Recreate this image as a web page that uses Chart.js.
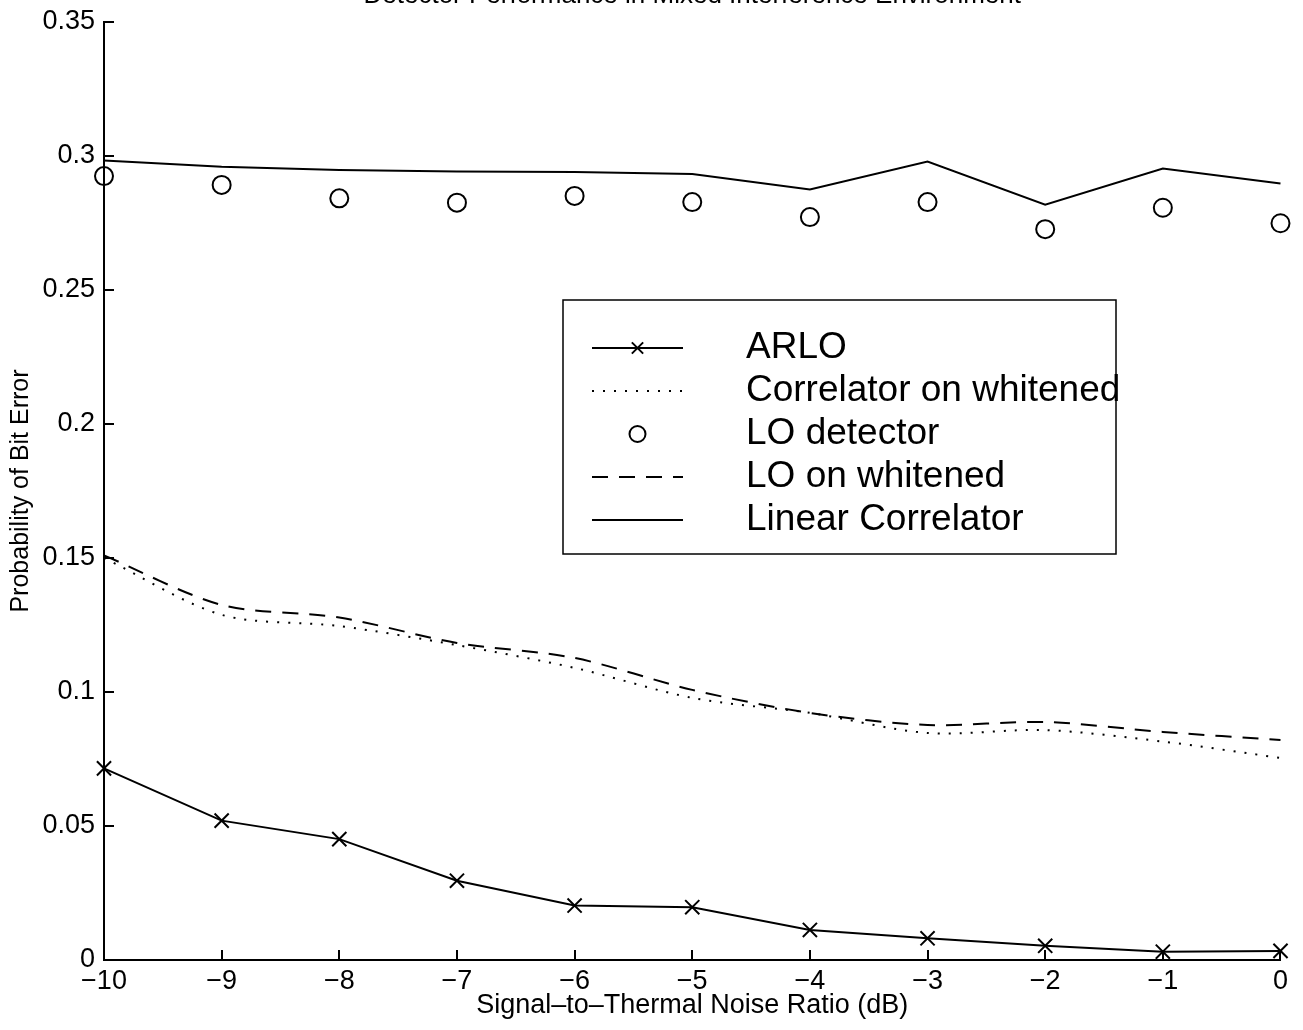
<!DOCTYPE html>
<html>
<head>
<meta charset="utf-8">
<script src="https://cdn.jsdelivr.net/npm/chart.js@4.4.1/dist/chart.umd.min.js"></script>
<style>
    html, body { margin: 0; padding: 0; background: #fff; }
    #frame { position: relative; width: 1303px; height: 1030px; overflow: hidden; }
    #holder { position: absolute; left: 0; top: -21px; width: 1303px; height: 1051px; }
</style>
</head>
<body>
<div id="frame"><div id="holder"><canvas id="berChart"></canvas></div></div>
<script>
// Signal-to-thermal noise ratio (dB)
const snr = [-10, -9, -8, -7, -6, -5, -4, -3, -2, -1, 0];

// Probability of bit error, one list per detector
const arlo = [0.0715, 0.0520, 0.0451, 0.0296, 0.0203, 0.0197, 0.0112, 0.0081, 0.0053, 0.0031, 0.0034];
const corrWhitened = [0.150, 0.1288, 0.1246, 0.1175, 0.1090, 0.0978, 0.0922, 0.0847, 0.0858, 0.0815, 0.0754];
const loDetector = [0.2925, 0.2892, 0.2842, 0.2826, 0.2851, 0.2828, 0.2772, 0.2828, 0.2727, 0.2807, 0.2749];
const loWhitened = [0.151, 0.1325, 0.1278, 0.1183, 0.1127, 0.1008, 0.0922, 0.0877, 0.0888, 0.0851, 0.0821];
const linearCorr = [0.2983, 0.2960, 0.2948, 0.2942, 0.2940, 0.2933, 0.2875, 0.2979, 0.2818, 0.2953, 0.2897];

// Tick labels
const xTickLabels = ["−10", "−9", "−8", "−7", "−6", "−5", "−4", "−3", "−2", "−1", "0"];
const yTicks = [0, 0.05, 0.1, 0.15, 0.2, 0.25, 0.3, 0.35];
const yTickLabels = ["0", "0.05", "0.1", "0.15", "0.2", "0.25", "0.3", "0.35"];

const chartTitle = "Detector Performance in Mixed Interference Environment";
const FONT = "'Liberation Sans', Arial, Helvetica, sans-serif";

function toPoints(values) {
    return snr.map((x, i) => ({ x: x, y: values[i] }));
}

function drawMarker(ctx, style, x, y, r) {
    ctx.beginPath();
    if (style === "circle") {
        ctx.arc(x, y, r, 0, Math.PI * 2);
    } else if (style === "crossRot") {
        const d = r * Math.SQRT1_2;
        ctx.moveTo(x - d, y - d);
        ctx.lineTo(x + d, y + d);
        ctx.moveTo(x - d, y + d);
        ctx.lineTo(x + d, y - d);
    }
    ctx.stroke();
}

// Title centred over the plot area (top is cut off, as in the scan)
const plotTitle = {
    id: "plotTitle",
    afterDraw(chart, args, opts) {
        const ctx = chart.ctx;
        const area = chart.chartArea;
        ctx.save();
        ctx.fillStyle = "#000";
        ctx.font = opts.fontSize + "px " + FONT;
        ctx.textAlign = "center";
        ctx.textBaseline = "alphabetic";
        ctx.fillText(opts.text, (area.left + area.right) / 2, opts.baseline);
        ctx.restore();
    }
};

// Boxed legend drawn inside the plot, like the original figure
const boxLegend = {
    id: "boxLegend",
    afterDraw(chart, args, opts) {
        const ctx = chart.ctx;
        ctx.save();
        ctx.fillStyle = "#fff";
        ctx.fillRect(opts.left, opts.top, opts.width, opts.height);
        ctx.strokeStyle = "#000";
        ctx.lineWidth = 1.5;
        ctx.strokeRect(opts.left, opts.top, opts.width, opts.height);

        chart.data.datasets.forEach((ds, i) => {
            const y = opts.firstRow + i * opts.rowGap;
            ctx.strokeStyle = ds.borderColor;
            ctx.lineWidth = ds.borderWidth;
            if (ds.showLine !== false) {
                ctx.setLineDash(ds.borderDash || []);
                ctx.beginPath();
                ctx.moveTo(opts.sampleStart, y);
                ctx.lineTo(opts.sampleEnd, y);
                ctx.stroke();
                ctx.setLineDash([]);
            }
            if (ds.pointRadius > 0) {
                drawMarker(ctx, ds.pointStyle, (opts.sampleStart + opts.sampleEnd) / 2, y, opts.markerRadius);
            }
            ctx.fillStyle = "#000";
            ctx.font = opts.fontSize + "px " + FONT;
            ctx.textAlign = "left";
            ctx.textBaseline = "middle";
            ctx.fillText(ds.label, opts.textX, y);
        });
        ctx.restore();
    }
};

const ctx = document.getElementById("berChart");

new Chart(ctx, {
    type: "line",
    data: {
        datasets: [
            {
                label: "ARLO",
                data: toPoints(arlo),
                borderColor: "#000",
                borderWidth: 2,
                pointStyle: "crossRot",
                pointRadius: 10,
                pointBorderWidth: 2,
                pointBorderColor: "#000",
                tension: 0,
            },
            {
                label: "Correlator on whitened",
                data: toPoints(corrWhitened),
                borderColor: "#000",
                borderWidth: 2,
                borderDash: [2, 9],
                pointRadius: 0,
                tension: 0.3,
            },
            {
                label: "LO detector",
                data: toPoints(loDetector),
                borderColor: "#000",
                borderWidth: 2,
                showLine: false,
                pointStyle: "circle",
                pointRadius: 9,
                pointBorderWidth: 2,
                pointBorderColor: "#000",
                pointBackgroundColor: "rgba(0,0,0,0)",
            },
            {
                label: "LO on whitened",
                data: toPoints(loWhitened),
                borderColor: "#000",
                borderWidth: 2,
                borderDash: [16, 11],
                pointRadius: 0,
                tension: 0.3,
            },
            {
                label: "Linear Correlator",
                data: toPoints(linearCorr),
                borderColor: "#000",
                borderWidth: 2,
                pointRadius: 0,
                tension: 0,
            },
        ],
    },
    options: {
        responsive: true,
        maintainAspectRatio: false,
        animation: false,
        clip: false,
        layout: {
            padding: { left: 0, right: 12, top: 43, bottom: 0 },
        },
        plugins: {
            legend: { display: false },
            tooltip: { enabled: false },
            title: { display: false },
            plotTitle: {
                text: chartTitle,
                fontSize: 26,
                baseline: 24,
            },
            boxLegend: {
                left: 563,
                top: 321,
                width: 553,
                height: 254,
                firstRow: 369,
                rowGap: 43,
                sampleStart: 592,
                sampleEnd: 683,
                markerRadius: 8,
                textX: 746,
                fontSize: 37,
            },
        },
        scales: {
            x: {
                type: "linear",
                min: -10,
                max: 0,
                afterFit: (scale) => { scale.height = 70; },
                ticks: {
                    stepSize: 1,
                    color: "#000",
                    padding: 15,
                    maxRotation: 0,
                    font: { family: FONT, size: 27 },
                    callback: (value) => xTickLabels[snr.indexOf(value)],
                },
                grid: {
                    drawOnChartArea: false,
                    drawTicks: true,
                    tickLength: -10,
                    color: "#000",
                    lineWidth: 2,
                },
                border: { display: true, color: "#000", width: 2 },
                title: {
                    display: true,
                    text: "Signal–to–Thermal Noise Ratio (dB)",
                    color: "#000",
                    font: { family: FONT, size: 27 },
                    padding: { top: 0, bottom: 8 },
                },
            },
            y: {
                min: 0,
                max: 0.35,
                afterFit: (scale) => { scale.width = 104; },
                ticks: {
                    stepSize: 0.05,
                    color: "#000",
                    padding: 19,
                    font: { family: FONT, size: 27 },
                    callback: (value) => {
                        const i = yTicks.findIndex((t) => Math.abs(t - value) < 1e-9);
                        return i >= 0 ? yTickLabels[i] : "";
                    },
                },
                grid: {
                    drawOnChartArea: false,
                    drawTicks: true,
                    tickLength: -10,
                    color: "#000",
                    lineWidth: 2,
                },
                border: { display: true, color: "#000", width: 2 },
                title: {
                    display: true,
                    text: "Probability of Bit Error",
                    color: "#000",
                    font: { family: FONT, size: 25 },
                    padding: { top: 6, bottom: 0 },
                },
            },
        },
    },
    plugins: [plotTitle, boxLegend],
});
</script>
</body>
</html>
